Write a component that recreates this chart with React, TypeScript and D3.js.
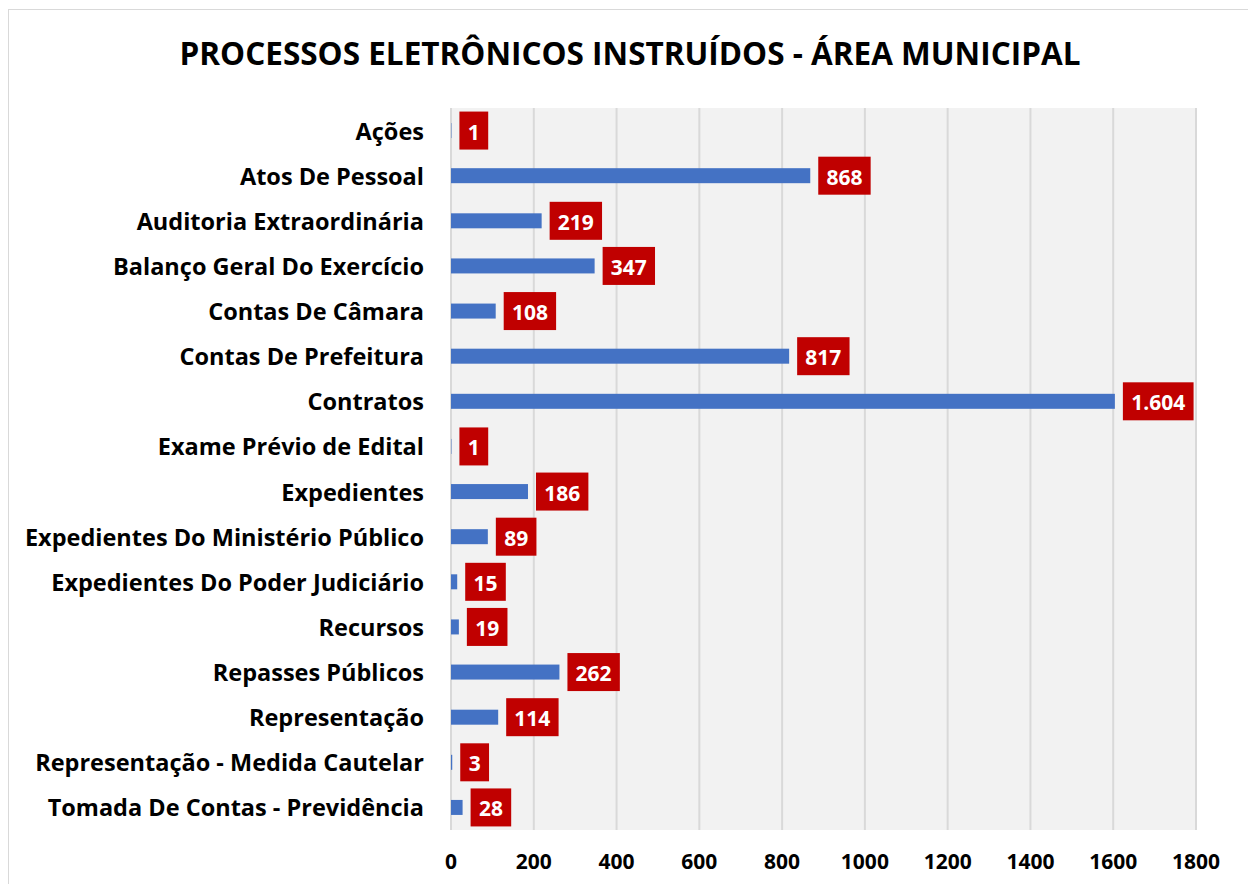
import React from 'react';
import * as d3 from 'd3';

// categories and values
const categories = [
  'Ações',
  'Atos De Pessoal',
  'Auditoria Extraordinária',
  'Balanço Geral Do Exercício',
  'Contas De Câmara',
  'Contas De Prefeitura',
  'Contratos',
  'Exame Prévio de Edital',
  'Expedientes',
  'Expedientes Do Ministério Público',
  'Expedientes Do Poder Judiciário',
  'Recursos',
  'Repasses Públicos',
  'Representação',
  'Representação - Medida Cautelar',
  'Tomada De Contas - Previdência',
];
const values = [1, 868, 219, 347, 108, 817, 1604, 1, 186, 89, 15, 19, 262, 114, 3, 28];
const xTicks = [0, 200, 400, 600, 800, 1000, 1200, 1400, 1600, 1800];

const title = 'PROCESSOS ELETRÔNICOS INSTRUÍDOS - ÁREA MUNICIPAL';

const W = 1248;
const H = 884;
const plot = { left: 451, right: 1196, top: 108, bottom: 830 };
const font = '"Open Sans", "Noto Sans", sans-serif';

const ptBR = d3.formatLocale({ decimal: ',', thousands: '.', grouping: [3], currency: ['R$', ''] });
const fmt = ptBR.format(',d');

// rough width of a bold label string
const labelWidth = (s: string) => s.split('').reduce((w, ch) => w + (ch === '.' ? 6.5 : 11.8), 0);

const App: React.FC = () => {
  const x = d3.scaleLinear().domain([0, 1800]).range([plot.left, plot.right]);
  const y = d3.scaleBand().domain(categories).range([plot.top, plot.bottom]);
  const barH = 15;
  const labelH = 38;

  return (
    <svg width={W} height={H} style={{ position: 'absolute', left: 0, top: 0 }} fontFamily={font}>
      <rect x={0} y={0} width={W} height={H} fill="#ffffff" />
      {/* chart frame, runs past right and bottom edges */}
      <rect x={8.5} y={9.5} width={W + 10} height={H + 10} fill="none" stroke="#d9d9d9" strokeWidth={1} />

      <text x={630} y={65} textAnchor="middle" fontSize={31.5} fontWeight={700} fill="#000">
        {title}
      </text>

      {/* plot area */}
      <rect x={plot.left} y={plot.top} width={plot.right - plot.left} height={plot.bottom - plot.top} fill="#f2f2f2" />
      {xTicks.map((t) => (
        <line key={t} x1={x(t)} x2={x(t)} y1={plot.top} y2={plot.bottom} stroke="#d9d9d9" strokeWidth={2} />
      ))}

      {categories.map((c, i) => {
        const cy = (y(c) || 0) + y.bandwidth() / 2;
        const v = values[i];
        const label = fmt(v);
        const boxW = labelWidth(label) + 17;
        const bx = x(v) + 8;
        return (
          <g key={c}>
            <text x={424} y={cy} textAnchor="end" dominantBaseline="central" fontSize={23.5} fontWeight={700} fill="#000">
              {c}
            </text>
            <rect x={x(0)} y={cy - barH / 2} width={x(v) - x(0)} height={barH} fill="#4472c4" />
            <rect x={bx} y={cy - labelH / 2} width={boxW} height={labelH} fill="#c00000" />
            <text x={bx + boxW / 2} y={cy + 1} textAnchor="middle" dominantBaseline="central" fontSize={21} fontWeight={700} fill="#fff">
              {label}
            </text>
          </g>
        );
      })}

      {xTicks.map((t) => (
        <text key={t} x={x(t)} y={861} textAnchor="middle" dominantBaseline="central" fontSize={21} fontWeight={700} fill="#000">
          {t}
        </text>
      ))}
    </svg>
  );
};

export default App;
